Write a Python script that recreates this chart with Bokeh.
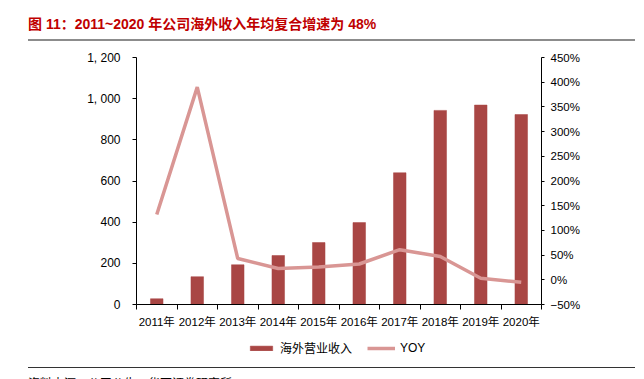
from bokeh.plotting import figure
from bokeh.models import (Range1d, LinearAxis, FixedTicker, Legend, LegendItem,
                          CustomJSTickFormatter, ColumnDataSource, Div)
from bokeh.layouts import column
from bokeh.embed import file_html
from bokeh.resources import INLINE

# ---- data ----
years = ["2011年", "2012年", "2013年", "2014年", "2015年",
         "2016年", "2017年", "2018年", "2019年", "2020年"]
revenue = [28, 135, 193, 238, 301, 398, 640, 943, 969, 923]
yoy = [132, 390, 43, 23, 26, 32, 61, 47, 3, -5]
left_ticks = [0, 200, 400, 600, 800, 1000, 1200]
left_tick_labels = ["0", "200", "400", "600", "800", "1, 000", "1, 200"]
right_ticks = [-50, 0, 50, 100, 150, 200, 250, 300, 350, 400, 450]
right_tick_labels = ["\u221250%", "0%", "50%", "100%", "150%", "200%", "250%",
                     "300%", "350%", "400%", "450%"]
series_names = ["海外营业收入", "YOY"]
title_text = "图 11：2011~2020 年公司海外收入年均复合增速为 48%"
source_text = "资料来源：公司公告，华西证券研究所"

FONT = "Liberation Sans, 'Noto Sans CJK SC', sans-serif"
BAR_COLOR = "#A94644"
LINE_COLOR = "#D99694"
BAR_W = 0.31
LINE_W = 3.5

TOTAL_W = 644
TITLE_H = 43
FIG_H = 292
LEG_H = 27
FL, FR, FT, FB = 136, 103, 14, 31

xs = [i + 0.5 for i in range(len(years))]
src = ColumnDataSource(dict(x=xs, rev=revenue, yoy=yoy))

title_div = Div(
    text=(f'<div style="margin-left:28px;width:607px;height:41px;box-sizing:border-box;'
          f'border-bottom:2px solid #8c8c8c;font-family:{FONT};font-size:14px;font-weight:bold;'
          f'color:#C00000;line-height:14px;padding-top:17px;white-space:nowrap;">{title_text}</div>'),
    width=TOTAL_W, height=TITLE_H, margin=0)

p = figure(width=TOTAL_W, height=FIG_H, x_range=Range1d(0, len(years)), y_range=Range1d(0, 1200),
           output_backend="svg", toolbar_location=None,
           min_border_left=FL, min_border_right=FR, min_border_top=FT, min_border_bottom=FB,
           x_axis_location=None, y_axis_location=None, title=None, margin=0)
p.outline_line_color = None
p.xgrid.visible = False
p.ygrid.visible = False
p.extra_y_ranges = {"yoy": Range1d(-50, 450)}

p.vbar(x="x", top="rev", width=BAR_W, source=src, fill_color=BAR_COLOR,
       line_color=BAR_COLOR, line_width=0.5)
p.line(x="x", y="yoy", source=src, y_range_name="yoy",
       line_color=LINE_COLOR, line_width=LINE_W)

LOOKUP = "const i = tvals.indexOf(tick); return i >= 0 ? tlabels[i] : '';"

def style_axis(ax, size="12px"):
    ax.major_label_text_font = FONT
    ax.major_label_text_font_size = size
    ax.major_label_text_color = "#000000"
    ax.axis_line_color = "#000000"
    ax.major_tick_line_color = "#000000"
    ax.minor_tick_line_color = "#000000"

# bottom axis
xax = LinearAxis(ticker=FixedTicker(ticks=xs, minor_ticks=list(range(len(years) + 1))),
                 formatter=CustomJSTickFormatter(args=dict(tvals=xs, tlabels=years), code=LOOKUP))
style_axis(xax, "11.5px")
xax.major_tick_out = 0
xax.major_tick_in = 0
xax.minor_tick_out = 5
xax.minor_tick_in = 0
xax.major_label_standoff = 6
p.add_layout(xax, "below")

# left axis
lax = LinearAxis(ticker=FixedTicker(ticks=left_ticks, minor_ticks=[]),
                 formatter=CustomJSTickFormatter(args=dict(tvals=left_ticks, tlabels=left_tick_labels),
                                                 code=LOOKUP))
style_axis(lax, "12px")
lax.major_tick_out = 4
lax.major_tick_in = 0
lax.major_label_standoff = 12
p.add_layout(lax, "left")

# right axis
rax = LinearAxis(y_range_name="yoy",
                 ticker=FixedTicker(ticks=right_ticks, minor_ticks=[]),
                 formatter=CustomJSTickFormatter(args=dict(tvals=right_ticks, tlabels=right_tick_labels),
                                                 code=LOOKUP))
style_axis(rax, "11.5px")
rax.major_tick_out = 3
rax.major_tick_in = 0
rax.major_label_standoff = 6
p.add_layout(rax, "right")

# legend strip (separate small figure so the legend is not clipped)
lg = figure(width=TOTAL_W, height=LEG_H, x_range=Range1d(0, 1), y_range=Range1d(0, 1),
            output_backend="svg", toolbar_location=None, min_border=0,
            x_axis_location=None, y_axis_location=None, title=None, margin=0)
lg.outline_line_color = None
lg.xgrid.visible = False
lg.ygrid.visible = False
offscreen = ColumnDataSource(dict(x=[-10, -11], y=[-10, -11]))
lb = lg.vbar(x="x", top="y", width=BAR_W, source=offscreen, fill_color=BAR_COLOR,
             line_color=BAR_COLOR, line_width=0.5)
ll = lg.line(x="x", y="y", source=offscreen, line_color=LINE_COLOR, line_width=LINE_W)
legend = Legend(items=[LegendItem(label=series_names[0], renderers=[lb]),
                       LegendItem(label=series_names[1], renderers=[ll])],
                orientation="horizontal", location=(111, 6),
                glyph_width=28, glyph_height=6, label_height=14, label_standoff=5,
                spacing=15, padding=0, margin=0, border_line_color=None,
                background_fill_alpha=0, label_text_font=FONT, label_text_font_size="12px",
                label_text_color="#000000")
lg.add_layout(legend)

source_div = Div(
    text=(f'<div style="margin-left:28px;width:607px;margin-top:5px;box-sizing:border-box;'
          f'border-top:1.5px solid #333333;font-family:{FONT};font-size:12px;color:#000;'
          f'padding-top:9px;line-height:14px;white-space:nowrap;">{source_text}</div>'),
    width=TOTAL_W, height=30, margin=0)

layout = column(title_div, p, lg, source_div, spacing=0)
open("out.html", "w").write(file_html(layout, INLINE))
